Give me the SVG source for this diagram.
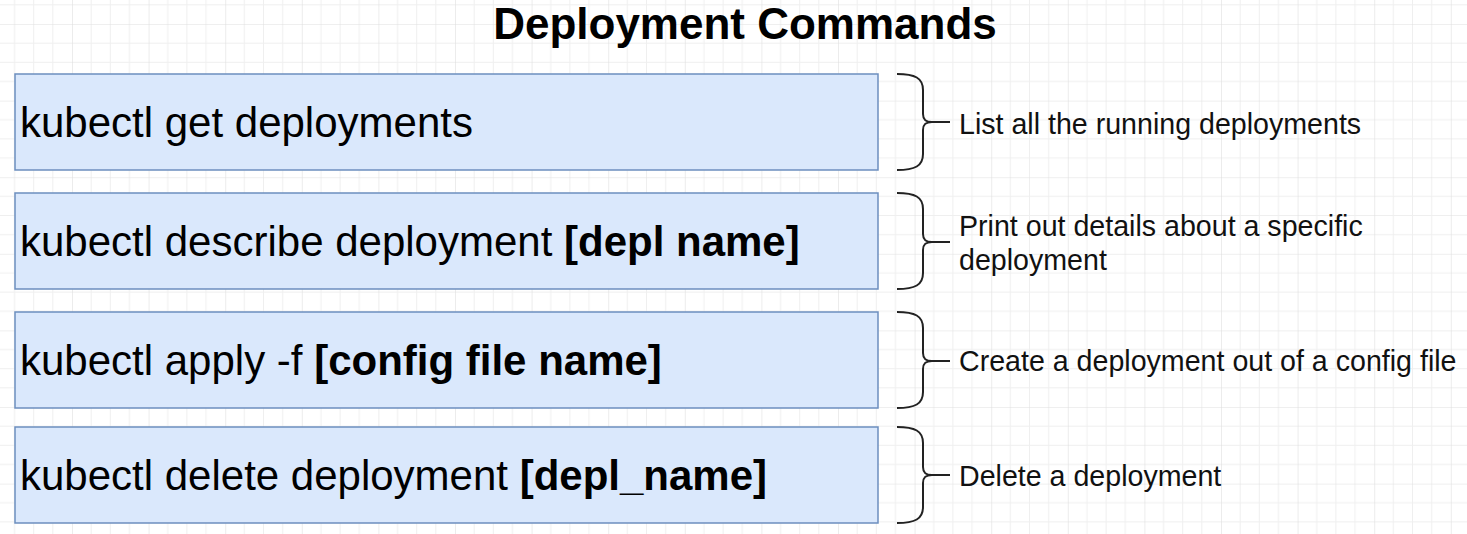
<svg xmlns="http://www.w3.org/2000/svg" width="1467" height="534" viewBox="0 0 1467 534">
  <style>
    .box { fill: #dae8fc; stroke: #6c8ebf; stroke-width: 1.5; }
    .cmd { font-family: "Liberation Sans", Arial, sans-serif; font-size: 42px; fill: #000; }
    .b { font-weight: bold; }
    .title { font-family: "Liberation Sans", Arial, sans-serif; font-size: 44px; font-weight: bold; fill: #000; }
    .desc { font-family: "Liberation Sans", Arial, sans-serif; font-size: 28.6px; fill: #111; }
    .brace { fill: none; stroke: #222; stroke-width: 2; }
  </style>
  <defs>
    <pattern id="grid" x="72" y="24" width="76.6" height="76.6" patternUnits="userSpaceOnUse">
      <path d="M19.15 0V76.6M38.3 0V76.6M57.45 0V76.6M0 19.15H76.6M0 38.3H76.6M0 57.45H76.6" stroke="#efefef" stroke-width="1" fill="none"/>
      <path d="M0 0V76.6M0 0H76.6" stroke="#dfdfdf" stroke-width="1.2" fill="none"/>
    </pattern>
  </defs>
  <rect width="1467" height="534" fill="#ffffff"/>
  <rect width="1467" height="534" fill="url(#grid)"/>

  <text id="title" class="title" x="745" y="39" text-anchor="middle">Deployment Commands</text>

  <g id="node-get">
    <rect class="box" x="15" y="74" width="863" height="96"/>
    <text class="cmd" x="20" y="137">kubectl get deployments</text>
  </g>
  <g id="node-describe">
    <rect class="box" x="15" y="193" width="863" height="96"/>
    <text class="cmd" x="20" y="256">kubectl describe deployment <tspan class="b">[depl name]</tspan></text>
  </g>
  <g id="node-apply">
    <rect class="box" x="15" y="312" width="863" height="96"/>
    <text class="cmd" x="20" y="375">kubectl apply -f <tspan class="b">[config file name]</tspan></text>
  </g>
  <g id="node-delete">
    <rect class="box" x="15" y="427" width="863" height="96"/>
    <text class="cmd" x="20" y="490">kubectl delete deployment <tspan class="b">[depl_name]</tspan></text>
  </g>

  <g id="connectors">
    <path class="brace" d="M897,74 C915,74 923,78 923,90 L923,114 C923,120 926,122 932,122 L950,122 M897,170 C915,170 923,166 923,154 L923,130 C923,124 926,122 932,122"/>
    <path class="brace" d="M897,193 C915,193 923,197 923,209 L923,234 C923,240 926,242 932,242 L950,242 M897,289 C915,289 923,285 923,273 L923,250 C923,244 926,242 932,242"/>
    <path class="brace" d="M897,312 C915,312 923,316 923,328 L923,353 C923,359 926,361 932,361 L950,361 M897,408 C915,408 923,404 923,392 L923,369 C923,363 926,361 932,361"/>
    <path class="brace" d="M897,427 C915,427 923,431 923,443 L923,467 C923,473 926,475 932,475 L950,475 M897,523 C915,523 923,519 923,507 L923,483 C923,477 926,475 932,475"/>
  </g>

  <g id="label-get"><text class="desc" x="959" y="134">List all the running deployments</text></g>
  <g id="label-describe"><text class="desc" x="959" y="236">Print out details about a specific</text><text class="desc" x="959" y="270">deployment</text></g>
  <g id="label-apply"><text class="desc" x="959" y="371">Create a deployment out of a config file</text></g>
  <g id="label-delete"><text class="desc" x="959" y="486">Delete a deployment</text></g>
</svg>
